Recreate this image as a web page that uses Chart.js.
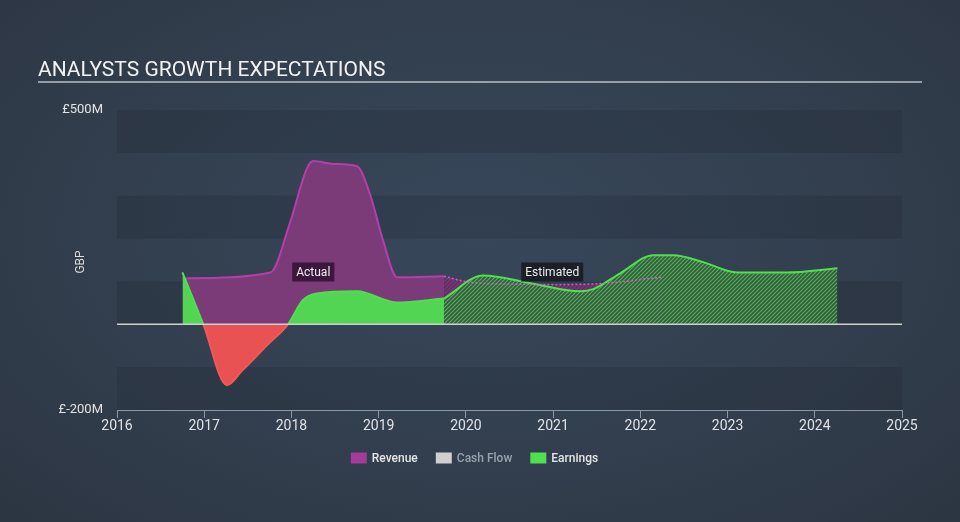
<!DOCTYPE html>
<html>
<head>
<meta charset="utf-8">
<script src="https://cdn.jsdelivr.net/npm/chart.js@4.4.1/dist/chart.umd.min.js"></script>
<style>
    html, body { margin: 0; padding: 0; }
    body {
        width: 960px;
        height: 522px;
        overflow: hidden;
        background: radial-gradient(ellipse at 50% 45%, #37475a 0%, #323e4d 60%, #2c3542 100%);
    }
    canvas { display: block; }
</style>
</head>
<body>
<canvas id="growthChart" width="960" height="522"></canvas>
<script>
// values in £M, x positions in fractional years
const revenueActualYears = [2016.75, 2017.76, 2017.98, 2018.18, 2018.25, 2018.48, 2018.75, 2018.9, 2019.05, 2019.21, 2019.75];
const revenueActual      = [107, 121, 235, 365, 381, 374, 369, 304, 196, 110, 112];

const revenueEstYears = [2019.75, 2020.05, 2020.5, 2021.0, 2021.54, 2022.25];
const revenueEst      = [112, 98, 94, 93, 95, 110];

const earningsActualYears = [2016.75, 2016.99, 2017.26, 2017.44, 2017.72, 2017.96, 2018.13, 2018.29, 2018.75, 2019.21, 2019.75];
const earningsActual      = [121, 0, -142, -107, -49, 0, 56, 72, 77, 51, 60];

const earningsEstYears = [2019.75, 2020.2, 2020.74, 2021.31, 2021.46, 2021.77, 2022.15, 2022.38, 2022.72, 2023.11, 2023.68, 2024.26];
const earningsEst      = [60, 114, 96, 77, 82, 119, 161, 161, 145, 121, 121, 131];

const legendNames = ['Revenue', 'Cash Flow', 'Earnings'];
const legendColors = ['#a33b98', '#cfcfcf', '#4fe04f'];
const legendTextColors = ['#e6e6e6', '#9aa3ad', '#e6e6e6'];

const yTicks = { min: -200, max: 500, step: 100 };
const xTicks = { min: 2016, max: 2025 };

const toPoints = (xs, ys) => xs.map((x, i) => ({ x: x, y: ys[i] }));

function makeHatch(stripe, base) {
    const c = document.createElement('canvas');
    c.width = 4;
    c.height = 4;
    const g = c.getContext('2d');
    g.fillStyle = base;
    g.fillRect(0, 0, 4, 4);
    g.strokeStyle = stripe;
    g.lineWidth = 1.2;
    g.beginPath();
    g.moveTo(-1, 5); g.lineTo(5, -1);
    g.moveTo(-1, 1); g.lineTo(1, -1);
    g.moveTo(3, 5); g.lineTo(5, 3);
    g.stroke();
    return g.createPattern(c, 'repeat');
}

const ctx = document.getElementById('growthChart').getContext('2d');
const greenHatch = makeHatch('rgba(80,200,80,0.85)', 'rgba(58,88,68,0.92)');
const purpleHatch = makeHatch('rgba(100,40,98,0.95)', 'rgba(130,58,125,0.8)');

const bandsPlugin = {
    id: 'bands',
    beforeDatasetsDraw(chart) {
        const { ctx, chartArea, scales } = chart;
        ctx.save();
        ctx.fillStyle = 'rgba(20,28,38,0.18)';
        for (let v = yTicks.min; v < yTicks.max; v += yTicks.step) {
            if ((v / yTicks.step) % 2 !== 0) continue;
            const yTop = scales.y.getPixelForValue(v + yTicks.step);
            const yBot = scales.y.getPixelForValue(v);
            ctx.fillRect(chartArea.left, yTop, chartArea.right - chartArea.left, yBot - yTop);
        }
        ctx.restore();
    },
    afterDatasetsDraw(chart) {
        const { ctx, chartArea, scales } = chart;
        const y0 = scales.y.getPixelForValue(0);
        ctx.save();
        ctx.strokeStyle = '#cfd0cc';
        ctx.lineWidth = 1.5;
        ctx.beginPath();
        ctx.moveTo(chartArea.left, y0);
        ctx.lineTo(chartArea.right, y0);
        ctx.stroke();

        // Actual / Estimated tags
        const tag = (text, xv, yv, bg) => {
            ctx.font = '12px Roboto';
            const w = ctx.measureText(text).width + 8;
            const h = 19;
            const px = scales.x.getPixelForValue(xv);
            const py = scales.y.getPixelForValue(yv);
            ctx.fillStyle = bg;
            ctx.fillRect(px - w / 2, py - h / 2, w, h);
            ctx.fillStyle = '#eeeeee';
            ctx.textAlign = 'center';
            ctx.textBaseline = 'middle';
            ctx.fillText(text, px, py + 0.5);
        };
        tag('Actual', 2018.25, 122, 'rgba(48,18,48,0.85)');
        tag('Estimated', 2020.99, 122, 'rgba(24,28,36,0.92)');
        ctx.restore();
    },
    afterDraw(chart) {
        const { ctx, chartArea } = chart;
        ctx.save();
        // title
        ctx.font = '21px Roboto';
        ctx.fillStyle = '#f2f2f2';
        ctx.textAlign = 'left';
        ctx.textBaseline = 'alphabetic';
        ctx.fillText('ANALYSTS GROWTH EXPECTATIONS', 38, 76);
        ctx.strokeStyle = '#b9bfc6';
        ctx.lineWidth = 1.5;
        ctx.beginPath();
        ctx.moveTo(38, 82);
        ctx.lineTo(922, 82);
        ctx.stroke();

        // GBP axis title
        ctx.font = '12px Roboto';
        ctx.fillStyle = '#dddddd';
        ctx.textAlign = 'center';
        ctx.textBaseline = 'middle';
        ctx.translate(81, (chartArea.top + chartArea.bottom) / 2 + 2);
        ctx.rotate(-Math.PI / 2);
        ctx.fillText('GBP', 0, 0);
        ctx.setTransform(1, 0, 0, 1, 0, 0);

        // legend
        ctx.font = '500 12px Roboto';
        const boxW = 16, boxH = 11, gapBox = 5, gapItem = 18;
        const widths = legendNames.map(n => boxW + gapBox + ctx.measureText(n).width);
        const total = widths.reduce((a, b) => a + b, 0) + gapItem * (legendNames.length - 1);
        let x = 474.5 - total / 2;
        const yc = 458;
        legendNames.forEach((name, i) => {
            ctx.fillStyle = legendColors[i];
            ctx.fillRect(x, yc - boxH / 2, boxW, boxH);
            ctx.fillStyle = legendTextColors[i];
            ctx.textAlign = 'left';
            ctx.fillText(name, x + boxW + gapBox, yc + 1);
            x += widths[i] + gapItem;
        });
        ctx.restore();
    }
};

const growthChart = new Chart(ctx, {
    type: 'line',
    data: {
        datasets: [
            {
                label: 'Revenue estimate line',
                data: toPoints(revenueEstYears, revenueEst),
                borderColor: 'rgba(215,95,205,0.9)',
                borderWidth: 1.5,
                borderDash: [2, 2],
                fill: false,
                cubicInterpolationMode: 'monotone',
                pointRadius: 0,
                order: 0
            },
            {
                label: 'Earnings',
                data: toPoints(earningsActualYears, earningsActual),
                borderColor: '#4fe04f',
                borderWidth: 2,
                fill: { target: 'origin', above: '#52d552', below: '#e85252' },
                segment: {
                    borderColor: c => (c.p0.parsed.y < 0 || c.p1.parsed.y < 0) ? '#f05858' : '#4fe04f'
                },
                cubicInterpolationMode: 'monotone',
                pointRadius: 0,
                order: 1
            },
            {
                label: 'Earnings estimate',
                data: toPoints(earningsEstYears, earningsEst),
                borderColor: '#4fe04f',
                borderWidth: 2,
                backgroundColor: greenHatch,
                fill: 'origin',
                cubicInterpolationMode: 'monotone',
                pointRadius: 0,
                order: 2
            },
            {
                label: 'Revenue',
                data: toPoints(revenueActualYears, revenueActual),
                borderColor: '#b33fa8',
                borderWidth: 2,
                backgroundColor: '#7b3a78',
                fill: 'origin',
                cubicInterpolationMode: 'monotone',
                pointRadius: 0,
                order: 3
            },
            {
                label: 'Revenue estimate',
                data: toPoints(revenueEstYears, revenueEst),
                borderColor: 'rgba(0,0,0,0)',
                borderWidth: 0,
                backgroundColor: purpleHatch,
                fill: 'origin',
                cubicInterpolationMode: 'monotone',
                pointRadius: 0,
                order: 4
            }
        ]
    },
    options: {
        responsive: false,
        animation: false,
        layout: { padding: { top: 110, right: 58, bottom: 72, left: 0 } },
        plugins: {
            legend: { display: false },
            tooltip: { enabled: false }
        },
        scales: {
            x: {
                type: 'linear',
                min: xTicks.min,
                max: xTicks.max,
                afterFit: s => { s.height = 40; },
                grid: { drawOnChartArea: false, drawTicks: true, tickLength: 8, color: '#8c97a5' },
                border: { display: true, color: '#8c97a5', width: 1 },
                ticks: {
                    stepSize: 1,
                    autoSkip: false,
                    maxRotation: 0,
                    padding: 0,
                    color: '#dfe2e6',
                    font: { family: 'Roboto', size: 14 },
                    callback: v => String(v)
                }
            },
            y: {
                min: yTicks.min,
                max: yTicks.max,
                afterFit: s => { s.width = 117; },
                grid: { display: false, drawTicks: false },
                border: { display: false },
                ticks: {
                    stepSize: yTicks.step,
                    padding: 14,
                    color: '#e2e2e2',
                    font: { family: 'Roboto', size: 13 },
                    callback: v => v === yTicks.max ? '£500M' : (v === yTicks.min ? '£-200M' : '')
                }
            }
        }
    },
    plugins: [bandsPlugin]
});
</script>
</body>
</html>
